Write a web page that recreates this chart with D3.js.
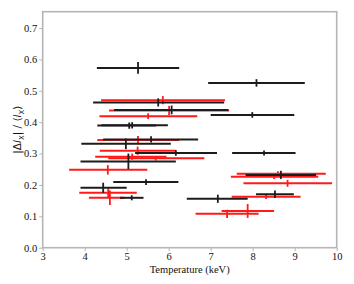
<!DOCTYPE html>
<html>
<head>
<meta charset="utf-8">
<script src="https://cdn.jsdelivr.net/npm/d3@7"></script>
<style>
  body { margin: 0; background: white; }
  svg { display: block; }
  .serif { font-family: "Liberation Serif", "DejaVu Serif", serif; }
</style>
</head>
<body>
<svg width="354" height="284"></svg>
<script>
// black series
let black_t = [5.27, 8.09, 5.75, 6.07, 7.99, 5.06, 5.13, 5.58, 4.98, 6.17, 8.27, 5.04, 5.46, 4.44, 5.12, 7.17, 8.67, 8.53]
let black_lo = [4.29, 6.94, 4.20, 4.70, 7.00, 4.30, 4.40, 4.44, 3.92, 5.20, 7.51, 3.90, 4.68, 3.90, 4.84, 6.43, 7.83, 8.08]
let black_hi = [6.25, 9.24, 7.32, 7.42, 8.99, 5.70, 5.98, 6.70, 6.05, 7.15, 9.02, 6.17, 6.23, 5.00, 5.40, 7.88, 9.51, 8.98]
let black_r = [0.573, 0.525, 0.463, 0.439, 0.423, 0.389, 0.390, 0.345, 0.331, 0.302, 0.302, 0.275, 0.209, 0.191, 0.159, 0.156, 0.232, 0.170]
let black_err = [0.019, 0.012, 0.013, 0.014, 0.009, 0.010, 0.010, 0.010, 0.017, 0.009, 0.008, 0.025, 0.009, 0.016, 0.008, 0.013, 0.013, 0.012]

// red series
let red_t = [5.86, 6.01, 5.51, 5.27, 5.26, 5.13, 5.69, 4.55, 4.56, 4.60, 8.51, 8.60, 8.83, 8.32, 7.88, 7.39]
let red_lo = [4.39, 4.58, 4.35, 4.30, 4.36, 4.25, 4.56, 3.63, 3.87, 4.10, 7.48, 7.62, 7.78, 7.50, 7.26, 6.64]
let red_hi = [7.34, 7.44, 6.68, 6.25, 6.17, 5.95, 6.85, 5.49, 5.24, 4.95, 9.56, 9.74, 9.89, 9.14, 8.51, 8.14]
let red_r = [0.470, 0.437, 0.419, 0.343, 0.309, 0.290, 0.285, 0.248, 0.175, 0.159, 0.226, 0.236, 0.205, 0.162, 0.117, 0.108]
let red_err = [0.013, 0.015, 0.009, 0.013, 0.013, 0.010, 0.007, 0.015, 0.014, 0.023, 0.007, 0.008, 0.011, 0.007, 0.022, 0.013]

let x_ticks = [3, 4, 5, 6, 7, 8, 9, 10]
let y_ticks = [0.0, 0.1, 0.2, 0.3, 0.4, 0.5, 0.6, 0.7]

let plot_left = 42.7, plot_right = 336.7, plot_top = 11.7, plot_bottom = 247.7
let frame_color = "#b5b5b5"

let svg = d3.select("svg")
let x = d3.scaleLinear().domain([3, 10]).range([plot_left, plot_right])
let y = d3.scaleLinear().domain([0, 0.752]).range([plot_bottom, plot_top])

function make_points(t, lo, hi, r, err) {
  let pts = []
  for (i = 0; i < t.length; i++) {
    pts.push({t: t[i], lo: lo[i], hi: hi[i], r: r[i], err: err[i]})
  }
  return pts
}

function draw_series(pts, color) {
  let g = svg.append("g")
  g.selectAll("foo")
    .data(pts)
    .enter()
    .append("line")
    .attr("stroke", color)
    .attr("stroke-width", 2)
    .attr("x1", d => x(d.lo))
    .attr("x2", d => x(d.hi))
    .attr("y1", d => y(d.r))
    .attr("y2", d => y(d.r))
  g.selectAll("foo")
    .data(pts)
    .enter()
    .append("line")
    .attr("stroke", color)
    .attr("stroke-width", 1.8)
    .attr("x1", d => x(d.t))
    .attr("x2", d => x(d.t))
    .attr("y1", d => y(d.r - d.err))
    .attr("y2", d => y(d.r + d.err))
}

draw_series(make_points(red_t, red_lo, red_hi, red_r, red_err), "#ff1a1a")
draw_series(make_points(black_t, black_lo, black_hi, black_r, black_err), "#1c1c1c")

// axes
let xaxis = svg.append("g")
  .attr("transform", "translate(0," + plot_bottom + ")")
  .call(d3.axisBottom(x).tickValues(x_ticks).tickFormat(d3.format("d")).tickSize(3.5).tickPadding(1))
let yaxis = svg.append("g")
  .attr("transform", "translate(" + plot_left + ",0)")
  .call(d3.axisLeft(y).tickValues(y_ticks).tickFormat(d3.format(".1f")).tickSize(3.5).tickPadding(2))

for (let ax of [xaxis, yaxis]) {
  ax.attr("font-family", null).attr("font-size", null)
  ax.select(".domain").remove()
  ax.selectAll("line").attr("stroke", frame_color).attr("stroke-width", 1)
  ax.selectAll("text").attr("class", "serif").attr("fill", "#111").style("font-size", "10.5px")
}

// frame
svg.append("rect")
  .attr("x", plot_left)
  .attr("y", plot_top)
  .attr("width", plot_right - plot_left)
  .attr("height", plot_bottom - plot_top)
  .attr("fill", "none")
  .attr("stroke", frame_color)
  .attr("stroke-width", 1.6)

svg.append("text")
  .attr("class", "serif")
  .attr("x", (plot_left + plot_right) / 2)
  .attr("y", 273)
  .attr("text-anchor", "middle")
  .style("font-size", "10.5px")
  .attr("fill", "#111")
  .text("Temperature (keV)")

let ylab = svg.append("text")
  .attr("transform", "translate(21," + ((plot_top + plot_bottom) / 2) + ") rotate(-90)")
  .attr("text-anchor", "middle")
  .style("font-family", "'DejaVu Sans', sans-serif")
  .style("font-size", "10.5px")
  .attr("fill", "#111")
ylab.append("tspan").text("|Δ")
ylab.append("tspan").style("font-style", "italic").text("l")
ylab.append("tspan").attr("dy", 2.5).style("font-size", "7px").text("X")
ylab.append("tspan").attr("dy", -2.5).text("| / ⟨")
ylab.append("tspan").style("font-style", "italic").text("l")
ylab.append("tspan").attr("dy", 2.5).style("font-size", "7px").text("X")
ylab.append("tspan").attr("dy", -2.5).text("⟩")
</script>
</body>
</html>
